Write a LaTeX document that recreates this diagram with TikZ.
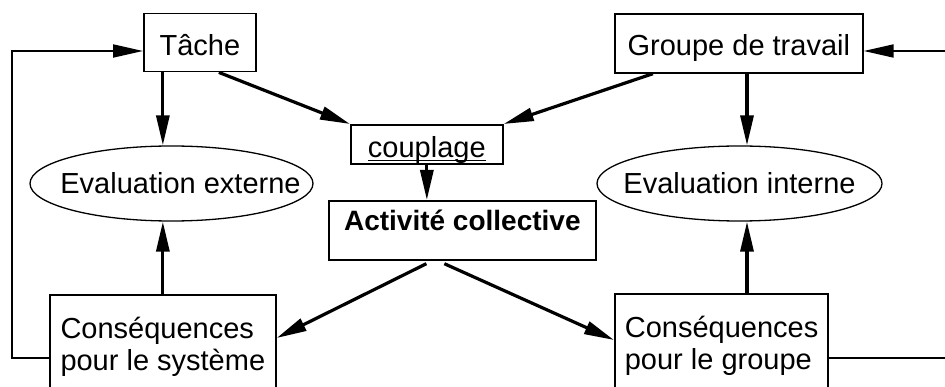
\documentclass[tikz,border=0pt]{standalone}
\usepackage{fontspec}
\setmainfont{Liberation Sans}
\usepackage{tikz}
\usetikzlibrary{shapes.geometric,arrows.meta}

\newcommand{\souligne}[1]{\setbox0=\hbox{#1}\rlap{\rule[-3.5pt]{\wd0}{1.6pt}}\box0}

\begin{document}
\begin{tikzpicture}[x=1pt,y=-1pt]
        \tikzstyle{every node}=[font=\fontsize{29}{32}\selectfont]
        \tikzstyle{boite}=[rectangle, draw, line width=1.7pt, inner ysep=0pt, anchor=north west]
        \tikzstyle{conseq}=[rectangle, draw, line width=1.7pt, align=left, inner xsep=10pt, inner ysep=22pt, anchor=north west]
        \tikzstyle{bulle}=[ellipse, draw, line width=1.3pt, inner sep=0pt, minimum height=75pt]
        \tikzstyle{fleche}=[-{Triangle[length=30pt,width=13pt]}, line width=3.2pt]
        \tikzstyle{retour}=[-{Triangle[length=30pt,width=13pt]}, line width=1.9pt]
        \path[fill=white, use as bounding box] (0,0) rectangle (945,387);
        \clip (0,0) rectangle (945,387);

        % boites du haut
        \node (Tache)[boite, minimum width=112pt, text height=42pt, text depth=16pt] at (143,12.7) {Tâche};
        \node (Groupe)[boite, minimum width=248pt, text height=42pt, text depth=17pt] at (614,13) {Groupe de travail};
        \node (Couplage)[boite, minimum width=152pt, text height=33pt, text depth=6pt] at (350,124) {\souligne{couplage}};
        \node (Activite)[boite, minimum width=267pt, text height=30pt, text depth=29pt, font=\fontsize{28}{32}\selectfont\bfseries] at (328,200) {Activité collective};

        % evaluations
        \node (EvalExt)[bulle, minimum width=283pt] at (171.5,183.5) {\makebox[0pt]{\hspace*{18pt}Evaluation externe}};
        \node (EvalInt)[bulle, minimum width=285pt] at (739.5,183.5) {\makebox[0pt]{Evaluation interne}};

        % consequences
        \node (ConsSys)[conseq, minimum width=226pt] at (49,294) {Conséquences\\pour le système};
        \node (ConsGrp)[conseq, minimum width=210pt] at (614,293) {Conséquences\\pour le groupe};

        \coordinate (AxeInt) at (747,0);
        \coordinate (GaucheBas) at (12,358);
        \coordinate (GaucheHaut) at (12,51);
        \coordinate (DroiteBas) at (970,358);
        \coordinate (DroiteHaut) at (970,51);

        \draw[fleche] (Tache.south -| ConsSys.north) -- (EvalExt.north -| ConsSys.north);
        \draw[fleche] (ConsSys.north) -- (EvalExt.south -| ConsSys.north);
        \draw[fleche] (Groupe.south -| AxeInt) -- (EvalInt.north -| AxeInt);
        \draw[fleche] (ConsGrp.north -| AxeInt) -- (EvalInt.south -| AxeInt);
        \draw[fleche] ([xshift=19pt]Tache.south) -- (Couplage.north west);
        \draw[fleche] ([xshift=-86pt]Groupe.south) -- (Couplage.north east);
        \draw[fleche] (Couplage.south) -- (Couplage.south |- Activite.north);
        \draw[fleche] ([shift={(-36pt,-3pt)}]Activite.south) -- ([yshift=-44pt]ConsSys.north east);
        \draw[fleche] ([shift={(-18pt,-3pt)}]Activite.south) -- ([yshift=-47pt]ConsGrp.north west);

        % boucles de retour
        \draw[retour] (ConsSys.west |- GaucheBas) -- (GaucheBas) -- (GaucheHaut) -- (Tache.west |- GaucheHaut);
        \draw[retour] (ConsGrp.east |- DroiteBas) -- (DroiteBas) -- (DroiteHaut) -- (Groupe.east |- DroiteHaut);
\end{tikzpicture}
\end{document}
